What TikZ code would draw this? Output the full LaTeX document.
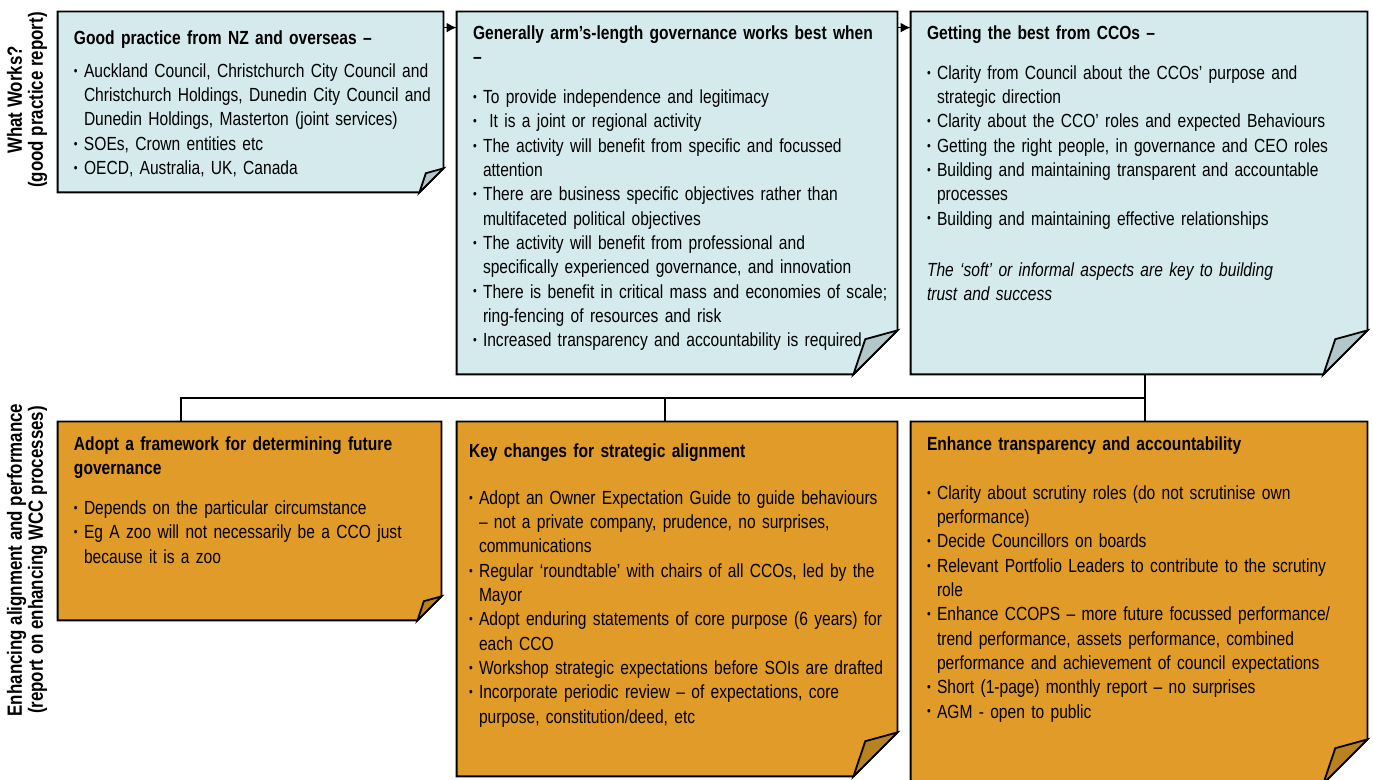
\documentclass[tikz,border=0pt]{standalone}
\usepackage{fontspec}
\setmainfont{Liberation Sans}[FakeStretch=0.82]
\usetikzlibrary{fit,arrows.meta}

\definecolor{noteblue}{HTML}{D4EAEC}
\definecolor{notebluefold}{HTML}{B2C7C9}
\definecolor{noteorange}{HTML}{E09B28}
\definecolor{noteorangefold}{HTML}{B8821F}

\newcommand\bul{\makebox[5pt][l]{\raisebox{.22ex}{\fontsize{6.5}{6.5}\selectfont\textbullet}}}
\newcommand\ind{\hspace*{5pt}}

% note with folded corner: name, fold size, fill, fold fill
\newcommand\foldnote[4]{%
  \filldraw[fill=#3,line width=.9pt] (#1.north west) -- (#1.north east) -- ([yshift=#2]#1.south east) -- ([xshift=-#2]#1.south east) -- (#1.south west) -- cycle;
  \filldraw[fill=#4,line width=.9pt] ([yshift=#2]#1.south east) -- ([xshift=-.73*#2,yshift=.8*#2]#1.south east) -- ([xshift=-#2]#1.south east) -- cycle;
}

\begin{document}
\begin{tikzpicture}[x=0.5pt,y=-0.5pt,
    box/.style={inner sep=0pt},
    txt/.style={anchor=base west,inner sep=0pt,text width=240pt,align=left,font=\fontsize{9.5}{12.15}\selectfont},
    side/.style={rotate=90,align=center,font=\bfseries\fontsize{10.3}{10.5}\selectfont},
    link/.style={line width=.9pt},
    flow/.style={line width=.9pt,-{Latex[length=5pt,width=5pt]}}]
    \useasboundingbox (0,0) rectangle (1373,780);

    % what works
    \node[box,fit={(58,12) (443,192)}] (t1) {};
    \node[box,fit={(457,12) (897,374)}] (t2) {};
    \node[box,fit={(911,12) (1367,374)}] (t3) {};
    \foldnote{t1}{12pt}{noteblue}{notebluefold}
    \foldnote{t2}{22pt}{noteblue}{notebluefold}
    \foldnote{t3}{22pt}{noteblue}{notebluefold}

    % enhancing alignment
    \node[box,fit={(58,422) (441,620)}] (b1) {};
    \node[box,fit={(457,422) (897,776)}] (b2) {};
    \node[box,fit={(911,422) (1367,783)}] (b3) {};
    \foldnote{b1}{12pt}{noteorange}{noteorangefold}
    \foldnote{b2}{22pt}{noteorange}{noteorangefold}
    \foldnote{b3}{22pt}{noteorange}{noteorangefold}

    \node[side] (works) at (27,100) {What Works?\\(good practice report)};
    \node[side] (enhance) at (27,560) {Enhancing alignment and performance\\(report on enhancing WCC processes)};

    \node[txt] (t1txt) at ([xshift=8pt,yshift=-16.25pt]t1.north west) {%
        {\bfseries Good practice from NZ and overseas –}\\[4.5pt]
        \bul Auckland Council, Christchurch City Council and\\
        \ind Christchurch Holdings, Dunedin City Council and\\
        \ind Dunedin Holdings, Masterton (joint services)\\
        \bul SOEs, Crown entities etc\\
        \bul OECD, Australia, UK, Canada};
    \node[txt] (t2txt) at ([xshift=8pt,yshift=-13.75pt]t2.north west) {%
        {\bfseries Generally arm’s-length governance works best when\\ –}\\[8pt]
        \bul To provide independence and legitimacy\\
        \bul\ It is a joint or regional activity\\
        \bul The activity will benefit from specific and focussed\\
        \ind attention\\
        \bul There are business specific objectives rather than\\
        \ind multifaceted political objectives\\
        \bul The activity will benefit from professional and\\
        \ind specifically experienced governance, and innovation\\
        \bul There is benefit in critical mass and economies of scale;\\
        \ind ring-fencing of resources and risk\\
        \bul Increased transparency and accountability is required};
    \node[txt] (t3txt) at ([xshift=8pt,yshift=-13.75pt]t3.north west) {%
        {\bfseries Getting the best from CCOs –}\\[8pt]
        \bul Clarity from Council about the CCOs’ purpose and\\
        \ind strategic direction\\
        \bul Clarity about the CCO’ roles and expected Behaviours\\
        \bul Getting the right people, in governance and CEO roles\\
        \bul Building and maintaining transparent and accountable\\
        \ind processes\\
        \bul Building and maintaining effective relationships\\[13.35pt]
        {\itshape The ‘soft’ or informal aspects are key to building\\
        trust and success}};

    \node[txt] (b1txt) at ([xshift=8pt,yshift=-14.25pt]b1.north west) {%
        {\bfseries Adopt a framework for determining future\\ governance}\\[8pt]
        \bul Depends on the particular circumstance\\
        \bul Eg A zoo will not necessarily be a CCO just\\
        \ind because it is a zoo};
    \node[txt] (b2txt) at ([xshift=6pt,yshift=-17.75pt]b2.north west) {%
        {\bfseries Key changes for strategic alignment}\\[11.5pt]
        \bul Adopt an Owner Expectation Guide to guide behaviours\\
        \ind – not a private company, prudence, no surprises,\\
        \ind communications\\
        \bul Regular ‘roundtable’ with chairs of all CCOs, led by the\\
        \ind Mayor\\
        \bul Adopt enduring statements of core purpose (6 years) for\\
        \ind each CCO\\
        \bul Workshop strategic expectations before SOIs are drafted\\
        \bul Incorporate periodic review – of expectations, core\\
        \ind purpose, constitution/deed, etc};
    \node[txt] (b3txt) at ([xshift=8pt,yshift=-14.25pt]b3.north west) {%
        {\bfseries Enhance transparency and accountability}\\[12.5pt]
        \bul Clarity about scrutiny roles (do not scrutinise own\\
        \ind performance)\\
        \bul Decide Councillors on boards\\
        \bul Relevant Portfolio Leaders to contribute to the scrutiny\\
        \ind role\\
        \bul Enhance CCOPS – more future focussed performance/\\
        \ind trend performance, assets performance, combined\\
        \ind performance and achievement of council expectations\\
        \bul Short (1-page) monthly report – no surprises\\
        \bul AGM - open to public};

    % connectors
    \draw[flow] ([yshift=-8pt]t1.north east) -- ([yshift=-8pt]t2.north west);
    \draw[flow] ([yshift=-8pt]t2.north east) -- ([yshift=-8pt]t3.north west);
    \coordinate (j1) at (181,398);
    \coordinate (j2) at (665,398);
    \coordinate (j3) at (1145,398);
    \draw[link] (t3.south -| j3) -- (j3) -- (j1) -- (b1.north -| j1);
    \draw[link] (j2) -- (b2.north -| j2);
    \draw[link] (j3) -- (b3.north -| j3);
\end{tikzpicture}
\end{document}
